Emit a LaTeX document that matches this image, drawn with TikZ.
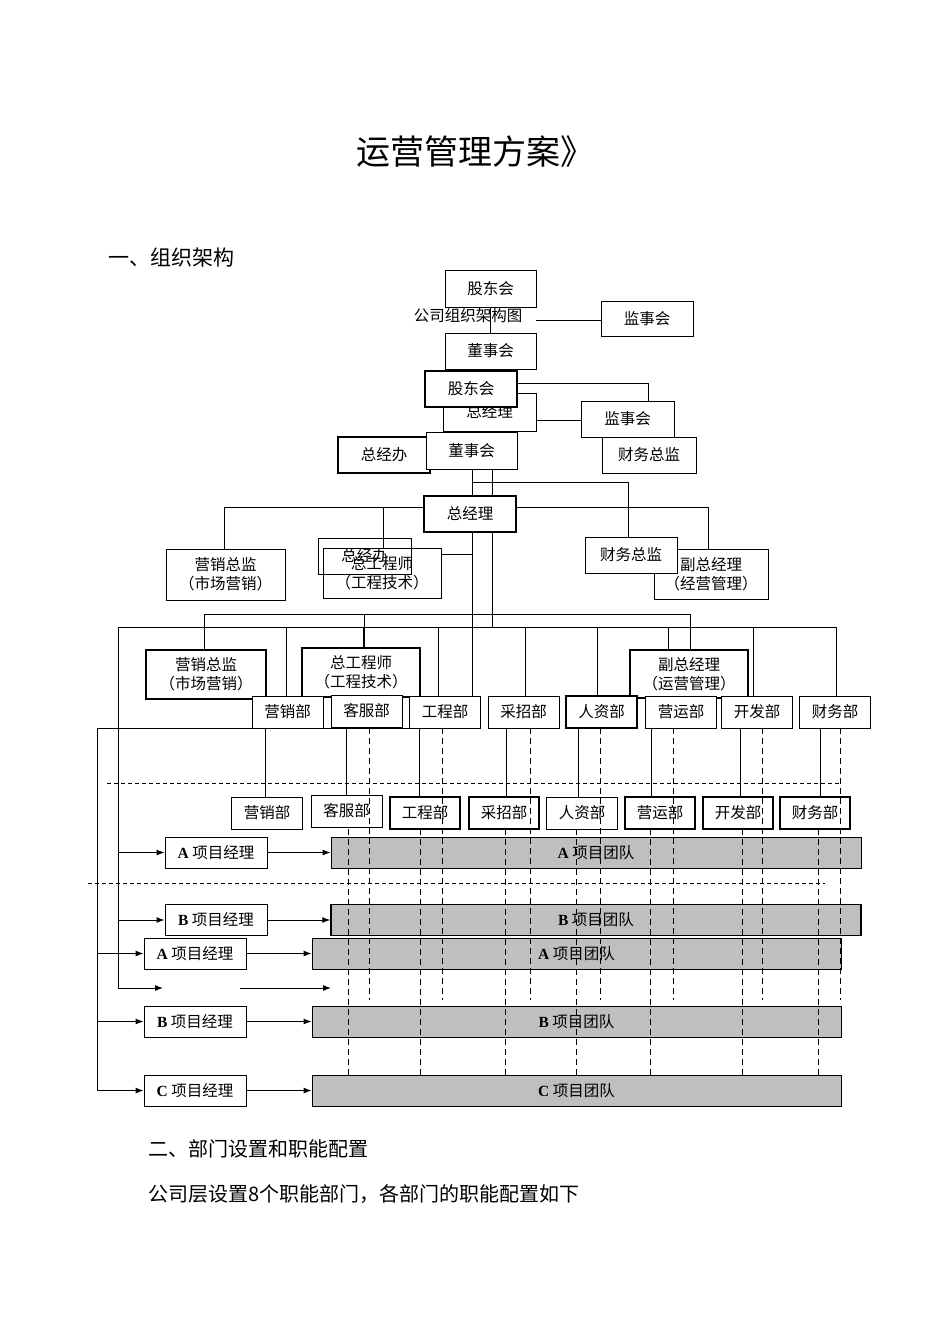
\documentclass[tikz,border=0pt]{standalone}
\usepackage{fontspec}
\usetikzlibrary{arrows.meta}
\setmainfont{Liberation Serif}
\newfontfamily\cjk{Noto Sans CJK SC}
\newcommand\LL[1]{{\rmfamily\bfseries #1}}
\begin{document}
\begin{tikzpicture}[x=1pt,y=-1pt,
  bx/.style={draw,fill=white,line width=0.9pt,inner sep=0pt,font=\cjk\fontsize{15.5}{19}\selectfont,align=center},
  tb/.style={bx,line width=1.6pt},
  dp/.style={bx,minimum width=71,minimum height=32},
  mg/.style={bx,minimum width=102,minimum height=31},
  tm/.style={draw,fill=black!25,line width=0.9pt,inner sep=0pt,font=\cjk\fontsize{15.5}{19}\selectfont,minimum height=31},
  ln/.style={line width=0.8pt},
  dl/.style={line width=0.8pt,dash pattern=on 6pt off 4pt},
  ar/.style={line width=1pt,-{Latex[length=8pt,width=6pt]}}]
\useasboundingbox[fill=white] (0,0) rectangle (950,1344);
\node[font=\cjk\fontsize{34}{40}\selectfont] (title) at (475,152) {运营管理方案》};
\node[anchor=west,font=\cjk\fontsize{21}{26}\selectfont] (h1) at (105,258) {一、组织架构};
\node[anchor=west,font=\cjk\fontsize{20}{26}\selectfont] (h2) at (145,1149) {二、部门设置和职能配置};
\node[anchor=west,font=\cjk\fontsize{20}{26}\selectfont] (p1) at (145,1194) {公司层设置8个职能部门，各部门的职能配置如下};
% ---------- background lines
\draw[ln] (490,307) -- (490,333);
\draw[ln] (536,320) -- (601,320);
\draw[ln] (517,383) -- (648,383) -- (648,401);
\draw[ln] (472,420) -- (581,420);
\draw[ln] (472,469) -- (472,729);
\draw[ln] (492,469) -- (492,627);
\draw[ln] (472,482) -- (628,482) -- (628,537);
\draw[ln] (224,549) -- (224,507) -- (708,507) -- (708,549);
\draw[ln] (383,507) -- (383,548);
\draw[ln] (395,554) -- (472,554);
\draw[ln] (204,650) -- (204,614) -- (690,614) -- (690,650);
\draw[ln] (364,614) -- (364,648);
\draw[ln] (118,988) -- (118,627) -- (836,627) -- (836,697);
\foreach \x in {286,363,438,525,597,668,753} \draw[ln] (\x,627) -- (\x,697);
\draw[ln] (97,1090) -- (97,728) -- (480,728);
\foreach \x in {265,346,419,506,578,651,740,820} \draw[ln] (\x,728) -- (\x,797);
\draw[dl,dash pattern=on 4pt off 3pt] (107,783) -- (840,783);
% ---------- upper chart boxes
\node[bx,minimum width=91,minimum height=37] (g1) at (490.5,288.5) {股东会};
\node (t0) at (468,316) {\cjk\fontsize{15.5}{19}\selectfont 公司组织架构图};
\node[bx,minimum width=92,minimum height=35] (j1) at (647,318.5) {监事会};
\node[bx,minimum width=91,minimum height=36] (d1) at (490.5,351) {董事会};
\node[bx,minimum width=93,minimum height=38] (z1) at (489.5,412) {总经理};
\node[bx,minimum width=93,minimum height=36] (j2) at (627.5,419) {监事会};
\node[bx,minimum width=94,minimum height=36] (c2) at (649,455) {财务总监};
\node[tb,minimum width=92,minimum height=36] (g2) at (471,389) {股东会};
\node[tb,minimum width=92,minimum height=36] (zb) at (384,455) {总经办};
\node[bx,minimum width=91,minimum height=37] (d2) at (471.5,450.5) {董事会};
\node[tb,minimum width=92,minimum height=36] (z2) at (470,514) {总经理};
\node[bx,minimum width=119,minimum height=51] (ys1) at (225.5,574.5) {营销总监\\（市场营销）};
\node[bx,minimum width=118,minimum height=50] (zg1) at (382,573) {总工程师\\（工程技术）};
\node[bx,fill=none,minimum width=93,minimum height=36] (zb2) at (364.5,556) {总经办};
\node[bx,minimum width=114,minimum height=50] (fz1) at (711,574) {副总经理\\（经营管理）};
\node[bx,minimum width=92,minimum height=36] (cw2) at (631,555) {财务总监};
\node[tb,minimum width=120,minimum height=49] (ys2) at (206,674.5) {营销总监\\（市场营销）};
\node[tb,minimum width=118,minimum height=49] (zg2) at (361,672.5) {总工程师\\（工程技术）};
\node[tb,minimum width=118,minimum height=48] (fz2) at (689,674) {副总经理\\（运营管理）};
% ---------- departments
\node[dp] (a1) at (287.5,712) {营销部};
\node[dp] (a2) at (366.5,711) {客服部};
\node[dp] (a3) at (445,712) {工程部};
\node[dp] (a4) at (523.5,712) {采招部};
\node[tb,minimum width=71,minimum height=32] (a5) at (601.5,712) {人资部};
\node[dp] (a6) at (681,712) {营运部};
\node[dp] (a7) at (757,712) {开发部};
\node[dp] (a8) at (835,712) {财务部};
\node[dp] (b1) at (267,813) {营销部};
\node[dp] (b2) at (346.5,811) {客服部};
\node[tb,minimum width=70,minimum height=32] (b3) at (425,813) {工程部};
\node[tb,minimum width=70,minimum height=32] (b4) at (504,813) {采招部};
\node[dp] (b5) at (582,813) {人资部};
\node[tb,minimum width=70,minimum height=32] (b6) at (660,813) {营运部};
\node[tb,minimum width=70,minimum height=32] (b7) at (738,813) {开发部};
\node[tb,minimum width=70,minimum height=32] (b8) at (815,813) {财务部};
% ---------- project rows
\node[mg] (m1) at (216,852.5) {\LL{A} 项目经理};
\node[mg] (m2) at (216,920) {\LL{B} 项目经理};
\node[mg] (m3) at (195,953.5) {\LL{A} 项目经理};
\node[mg] (m4) at (195,1021.5) {\LL{B} 项目经理};
\node[mg] (m5) at (195,1090.5) {\LL{C} 项目经理};
\node[tm,minimum width=530] (t1) at (596,852.5) {\LL{A} 项目团队};
\node[tm,minimum width=530,line width=1.4pt] (t2) at (596,920) {\LL{B} 项目团队};
\node[tm,minimum width=529] (t3) at (576.5,953.5) {\LL{A} 项目团队};
\node[tm,minimum width=529] (t4) at (576.5,1021.5) {\LL{B} 项目团队};
\node[tm,minimum width=529] (t5) at (576.5,1090.5) {\LL{C} 项目团队};
\coordinate (q1) at (163,988);
\coordinate (q2) at (240,988);
\coordinate (q3) at (331,988);
% dashed verticals
\foreach \x in {369,442,530,600,673,762,840} \draw[dl] (\x,728) -- (\x,1000);
\foreach \x in {348,420,505,576,650,742,818} \draw[dl] (\x,829) -- (\x,1075);
\draw[dl,dash pattern=on 4pt off 3pt] (88,883) -- (825,883);
% arrows
\draw[ar] (118,852.5) -- (m1.west);
\draw[ar] (m1.east) -- (t1.west);
\draw[ar] (118,920) -- (m2.west);
\draw[ar] (m2.east) -- (t2.west);
\draw[ar] (97,953.5) -- (m3.west);
\draw[ar] (m3.east) -- (t3.west);
\draw[ar] (118,988) -- (q1);
\draw[ar] (q2) -- (q3);
\draw[ar] (97,1021.5) -- (m4.west);
\draw[ar] (m4.east) -- (t4.west);
\draw[ar] (97,1090.5) -- (m5.west);
\draw[ar] (m5.east) -- (t5.west);
\end{tikzpicture}
\end{document}
